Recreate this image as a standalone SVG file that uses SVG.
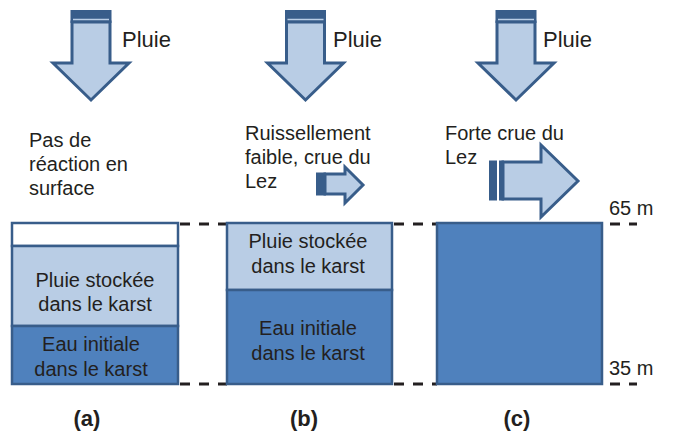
<svg xmlns="http://www.w3.org/2000/svg" width="675" height="432" viewBox="0 0 675 432">
<style>
text{font-family:"Liberation Sans",Arial,sans-serif;fill:#231f20}
.t{font-size:20px}
.p{font-size:22px}
.c{text-anchor:middle}
.lbl{font-size:22px;font-weight:bold;text-anchor:middle}
.arr{fill:#b9cde5;stroke:#385d8a;stroke-width:3;stroke-linejoin:miter}
.dk{fill:#385d8a}
.lite{fill:#b9cde5;stroke:#385d8a;stroke-width:2.5}
.deep{fill:#4f81bd;stroke:#385d8a;stroke-width:2.5}
.wh{fill:#fff;stroke:#385d8a;stroke-width:2.5}
.dash{stroke:#231f20;stroke-width:3;stroke-dasharray:10 9;fill:none}
</style>
<rect width="675" height="432" fill="#fff"/>
<g id="connectors">
<line class="dash" x1="180" y1="224" x2="227" y2="224"/>
<line class="dash" x1="394" y1="224" x2="437" y2="224"/>
<line class="dash" x1="610" y1="224" x2="637" y2="224"/>
<line class="dash" x1="180" y1="384" x2="227" y2="384"/>
<line class="dash" x1="394" y1="384" x2="437" y2="384"/>
<line class="dash" x1="610" y1="384" x2="637" y2="384"/>
</g>
<g id="rain-a">
<polygon class="arr" points="72,22 110,22 110,63 129,63 91,100 53,63 72,63"/>
<rect class="dk" x="70.5" y="10" width="41" height="13"/>
<line x1="73" y1="19.5" x2="109" y2="19.5" stroke="#b9cde5" stroke-width="1.5"/>
<text class="p" x="122" y="47">Pluie</text>
</g>
<g id="rain-b">
<polygon class="arr" points="286.5,22 324.5,22 324.5,63 343.5,63 305.5,100 267.5,63 286.5,63"/>
<rect class="dk" x="285" y="10" width="41" height="13"/>
<line x1="287.5" y1="19.5" x2="323.5" y2="19.5" stroke="#b9cde5" stroke-width="1.5"/>
<text class="p" x="333" y="47">Pluie</text>
</g>
<g id="rain-c">
<polygon class="arr" points="497,22 535,22 535,63 554,63 516,100 478,63 497,63"/>
<rect class="dk" x="495.5" y="10" width="41" height="13"/>
<line x1="498" y1="19.5" x2="534" y2="19.5" stroke="#b9cde5" stroke-width="1.5"/>
<text class="p" x="543" y="47">Pluie</text>
</g>
<g id="text-a">
<text class="t" x="29" y="147">Pas de</text>
<text class="t" x="29" y="171">réaction en</text>
<text class="t" x="29" y="195">surface</text>
</g>
<g id="text-b">
<text class="t" x="245" y="140">Ruissellement</text>
<text class="t" x="245" y="164">faible, crue du</text>
<text class="t" x="245" y="188">Lez</text>
</g>
<g id="flow-b">
<polygon class="arr" points="325,174 345,174 345,167 363,185 345,203 345,194 325,194"/>
<rect class="dk" x="316" y="172.5" width="10" height="23"/>
</g>
<g id="text-c">
<text class="t" x="445" y="140">Forte crue du</text>
<text class="t" x="445" y="164">Lez</text>
</g>
<g id="flow-c">
<polygon class="arr" points="503,162 541,162 541,145 578,181 541,217 541,199 503,199"/>
<rect class="dk" x="489" y="160.5" width="8" height="40"/>
<rect class="dk" x="499" y="160.5" width="5" height="40"/>
</g>
<g id="box-a">
<rect class="wh" x="12" y="223" width="166" height="23"/>
<rect class="lite" x="12" y="246" width="166" height="80"/>
<rect class="deep" x="12" y="326" width="166" height="58"/>
<text class="t c" x="95" y="287">Pluie stockée</text>
<text class="t c" x="95" y="311">dans le karst</text>
<text class="t c" x="91" y="351">Eau initiale</text>
<text class="t c" x="91" y="376">dans le karst</text>
</g>
<g id="box-b">
<rect class="lite" x="227" y="223" width="165" height="67"/>
<rect class="deep" x="227" y="290" width="165" height="94"/>
<text class="t c" x="308" y="248">Pluie stockée</text>
<text class="t c" x="308" y="273">dans le karst</text>
<text class="t c" x="308" y="335">Eau initiale</text>
<text class="t c" x="308" y="360">dans le karst</text>
</g>
<g id="box-c">
<rect class="deep" x="437" y="223" width="165" height="161"/>
</g>
<g id="levels">
<text class="t" x="609" y="215">65 m</text>
<text class="t" x="609" y="375">35 m</text>
</g>
<g id="labels">
<text class="lbl" x="87" y="426">(a)</text>
<text class="lbl" x="304" y="426">(b)</text>
<text class="lbl" x="517" y="426">(c)</text>
</g>
</svg>
